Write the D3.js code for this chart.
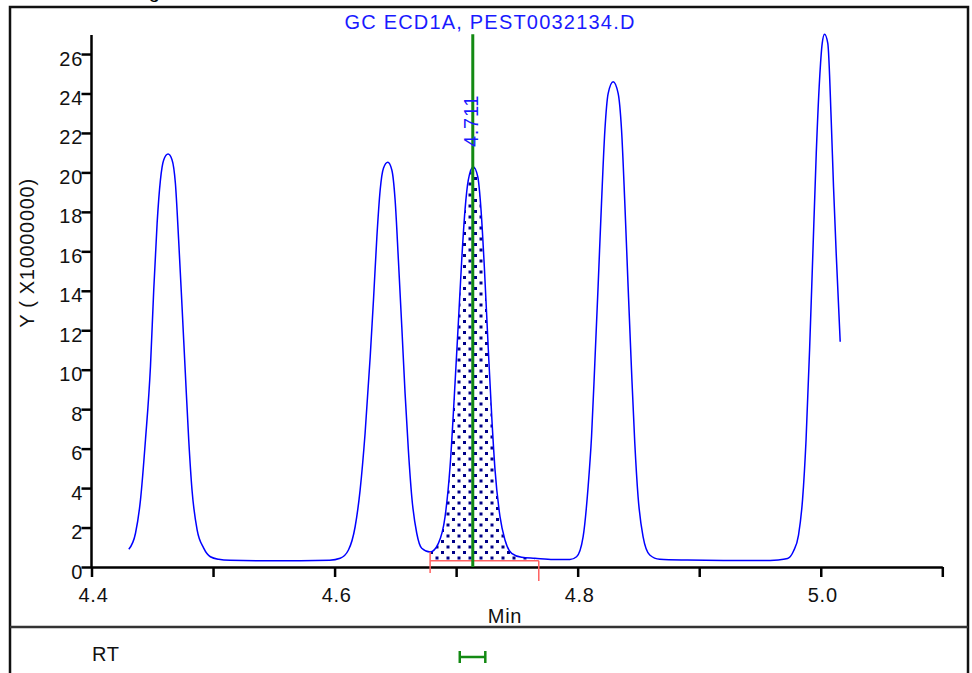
<!DOCTYPE html>
<html>
<head>
<meta charset="utf-8">
<script src="https://cdn.jsdelivr.net/npm/d3@7"></script>
<style>
  html, body { margin: 0; padding: 0; background: #fff; }
  svg { display: block; }
  text { font-family: "Liberation Sans", Arial, sans-serif; }
</style>
</head>
<body>
<svg id="chart" width="972" height="673"></svg>
<script>
// ---------- data ----------
const title = "GC ECD1A, PEST0032134.D";
const yAxisTitle = "Y ( X10000000)";
const xAxisTitle = "Min";
const xTicks = [4.4, 4.5, 4.6, 4.7, 4.8, 4.9, 5.0, 5.1];
const xTickLabels = ["4.4", "", "4.6", "", "4.8", "", "5.0", ""];
const yTicks = [0, 2, 4, 6, 8, 10, 12, 14, 16, 18, 20, 22, 24, 26];
const yTickLabels = ["0", "2", "4", "6", "8", "10", "12", "14", "16", "18", "20", "22", "24", "26"];

// chromatogram trace (time in min, signal in units of 1e7)
const timeMin = [
  4.4307, 4.4362, 4.4403, 4.4444, 4.4485, 4.4512, 4.4540, 4.4567, 4.4594, 4.4630,
  4.4663, 4.4690, 4.4717, 4.4745, 4.4772, 4.4800, 4.4827, 4.4869, 4.4923, 4.4978,
  4.5046, 4.5140, 4.5390, 4.5720, 4.5960,
  4.6046, 4.6114, 4.6169, 4.6210, 4.6251, 4.6293, 4.6320, 4.6348, 4.6375, 4.6402,
  4.6438, 4.6471, 4.6498, 4.6525, 4.6553, 4.6580, 4.6607, 4.6635, 4.6676, 4.6717,
  4.6786,
  4.6854, 4.6909, 4.6950, 4.6991, 4.7018, 4.7046, 4.7073, 4.7100, 4.7141, 4.7178,
  4.7205, 4.7232, 4.7265, 4.7293, 4.7320, 4.7361, 4.7402, 4.7457, 4.7539, 4.7648,
  4.7800,
  4.7936, 4.7991, 4.8045, 4.8086, 4.8114, 4.8141, 4.8168, 4.8196, 4.8224, 4.8251,
  4.8292, 4.8333, 4.8361, 4.8388, 4.8415, 4.8443, 4.8470, 4.8497, 4.8538, 4.8593,
  4.8675, 4.8900, 4.9200, 4.9500, 4.9650,
  4.9727, 4.9776, 4.9817, 4.9850, 4.9879, 4.9908, 4.9935, 4.9963, 4.9990, 5.0012,
  5.0031, 5.0058, 5.0086, 5.0105, 5.0127, 5.0160
];
const signal = [
  0.90, 1.71, 3.40, 6.44, 10.15, 14.04, 17.44, 19.61, 20.63, 20.93,
  20.63, 19.46, 16.57, 13.19, 9.83, 6.44, 3.90, 1.88, 0.96, 0.52,
  0.39, 0.34, 0.32, 0.32, 0.34,
  0.44, 0.86, 2.04, 3.90, 6.78, 10.66, 13.53, 16.74, 19.11, 20.21,
  20.51, 20.12, 18.60, 15.56, 12.18, 8.80, 5.93, 3.56, 1.71, 0.95,
  0.76,
  1.20, 2.55, 5.08, 9.31, 12.35, 15.56, 18.09, 19.61, 20.29, 19.78,
  18.09, 15.22, 11.00, 7.62, 4.92, 2.55, 1.37, 0.69, 0.49, 0.44,
  0.38,
  0.38, 0.52, 1.54, 4.07, 6.60, 10.32, 14.21, 18.43, 22.15, 24.01,
  24.60, 24.01, 22.15, 18.43, 14.21, 9.98, 6.27, 3.56, 1.54, 0.61,
  0.39, 0.35, 0.33, 0.33, 0.36,
  0.43, 0.81, 1.62, 3.40, 6.44, 11.00, 15.90, 20.97, 24.68, 26.54,
  27.00, 26.54, 22.66, 19.27, 15.90, 11.42
];

// integrated peak
const peakStart = 4.6786, peakEnd = 4.7648, peakBaseEnd = 4.7680;
const peakBaseline = 0.32;
const rtMarker = 4.7137;
const rtLabel = "4.711";
const rtWindow = [4.703, 4.724];
const rtRowLabel = "RT";

// ---------- drawing ----------
const svg = d3.select("#chart");
const FONT = 20;
const LS = "0.7px";

const x = d3.scaleLinear().domain([4.4, 5.1]).range([91.5, 942.3]);
const y = d3.scaleLinear().domain([0, 27]).range([567, 34.3]);

// pattern for integrated area
const defs = svg.append("defs");
const pat = defs.append("pattern")
  .attr("id", "dots").attr("patternUnits", "userSpaceOnUse")
  .attr("width", 11).attr("height", 11);
pat.append("rect").attr("x", 1).attr("y", 1).attr("width", 3).attr("height", 3).attr("fill", "#000088");
pat.append("rect").attr("x", 6.5).attr("y", 6.5).attr("width", 3).attr("height", 3).attr("fill", "#000088");

// clipped header text at very top
svg.append("text").attr("x", 160).attr("y", -2).attr("text-anchor", "end")
  .attr("font-size", FONT).attr("fill", "#000").text("Plotting");

// outer frame and separator
svg.append("rect").attr("x", 10).attr("y", 7).attr("width", 958).attr("height", 720)
  .attr("fill", "none").attr("stroke", "#111").attr("stroke-width", 2.5);
svg.append("line").attr("x1", 10).attr("x2", 968).attr("y1", 627).attr("y2", 627)
  .attr("stroke", "#333").attr("stroke-width", 2.5);

// title
svg.append("text").attr("x", 490).attr("y", 29).attr("text-anchor", "middle")
  .attr("font-size", FONT).attr("letter-spacing", "1.2px").attr("fill", "#1a1aff").text(title);

const pts = timeMin.map((t, i) => ({ t, v: signal[i] }));

// shaded integrated peak
const areaPts = pts.filter(p => p.t >= peakStart && p.t <= peakEnd);
const area = d3.area().x(d => x(d.t)).y0(y(peakBaseline)).y1(d => y(d.v))
  .curve(d3.curveMonotoneX);
svg.append("path").datum(areaPts).attr("d", area)
  .attr("fill", "url(#dots)").attr("stroke", "none");

// axes
const xAxis = d3.axisBottom(x).tickValues(xTicks).tickSize(10).tickSizeOuter(0).tickFormat("");
const gx = svg.append("g").attr("transform", `translate(0,${y(0)})`).call(xAxis);
gx.select(".domain").attr("stroke", "#000").attr("stroke-width", 2.5);
gx.selectAll(".tick line").attr("stroke", "#000").attr("stroke-width", 2.5);

const yAxis = d3.axisLeft(y).tickValues(yTicks).tickSize(10).tickSizeOuter(0).tickFormat("");
const gy = svg.append("g").attr("transform", `translate(${x(4.4)},0)`).call(yAxis);
gy.select(".domain").attr("stroke", "#000").attr("stroke-width", 2.5)
  .attr("d", `M0,${y(0)}V${y(27) + 0.7}`);
gy.selectAll(".tick line").attr("stroke", "#000").attr("stroke-width", 2.5);

// tick labels
svg.append("g").selectAll("text").data(xTicks.map((v, i) => ({ v, l: xTickLabels[i] })).filter(d => d.l))
  .join("text").attr("x", d => x(d.v) + 2).attr("y", 602).attr("text-anchor", "middle")
  .attr("font-size", FONT).attr("letter-spacing", LS).attr("fill", "#111").text(d => d.l);
svg.append("g").selectAll("text").data(yTicks.map((v, i) => ({ v, l: yTickLabels[i] })))
  .join("text").attr("x", 83).attr("y", d => y(d.v) + 11.5).attr("text-anchor", "end")
  .attr("font-size", FONT).attr("letter-spacing", LS).attr("fill", "#111").text(d => d.l);

// axis titles
svg.append("text").attr("x", 505).attr("y", 623).attr("text-anchor", "middle")
  .attr("font-size", FONT).attr("letter-spacing", LS).attr("fill", "#111").text(xAxisTitle);
svg.append("text").attr("transform", "translate(34,253) rotate(-90)").attr("text-anchor", "middle")
  .attr("font-size", FONT).attr("letter-spacing", LS).attr("fill", "#111").text(yAxisTitle);

// trace
const line = d3.line().x(d => x(d.t)).y(d => y(d.v)).curve(d3.curveMonotoneX);
svg.append("path").datum(pts).attr("d", line)
  .attr("fill", "none").attr("stroke", "#0000ff").attr("stroke-width", 1.5);

// integration baseline (red)
const red = "#ff6060";
svg.append("line").attr("x1", x(peakStart)).attr("x2", x(peakBaseEnd))
  .attr("y1", y(peakBaseline)).attr("y2", y(peakBaseline))
  .attr("stroke", red).attr("stroke-width", 1.5);
svg.append("line").attr("x1", x(peakStart)).attr("x2", x(peakStart))
  .attr("y1", y(0.76)).attr("y2", y(0) + 6)
  .attr("stroke", red).attr("stroke-width", 1.5);
svg.append("line").attr("x1", x(peakBaseEnd)).attr("x2", x(peakBaseEnd))
  .attr("y1", y(peakBaseline)).attr("y2", y(0) + 14)
  .attr("stroke", red).attr("stroke-width", 1.5);

// retention time marker
const green = "#138a13";
svg.append("line").attr("x1", x(rtMarker)).attr("x2", x(rtMarker))
  .attr("y1", y(27)).attr("y2", y(0))
  .attr("stroke", green).attr("stroke-width", 3);
svg.append("text").attr("transform", `translate(${x(rtMarker) + 5},147) rotate(-90)`)
  .attr("text-anchor", "start").attr("font-size", FONT).attr("letter-spacing", LS)
  .attr("fill", "#1a1aff").text(rtLabel);

// bottom RT row
svg.append("text").attr("x", 92).attr("y", 661).attr("font-size", FONT).attr("letter-spacing", LS)
  .attr("fill", "#111").text(rtRowLabel);
const rb = svg.append("g").attr("stroke", green).attr("stroke-width", 2.5);
rb.append("line").attr("x1", x(rtWindow[0])).attr("x2", x(rtWindow[1])).attr("y1", 657).attr("y2", 657);
rb.append("line").attr("x1", x(rtWindow[0])).attr("x2", x(rtWindow[0])).attr("y1", 651).attr("y2", 663);
rb.append("line").attr("x1", x(rtWindow[1])).attr("x2", x(rtWindow[1])).attr("y1", 651).attr("y2", 663);
</script>
</body>
</html>
